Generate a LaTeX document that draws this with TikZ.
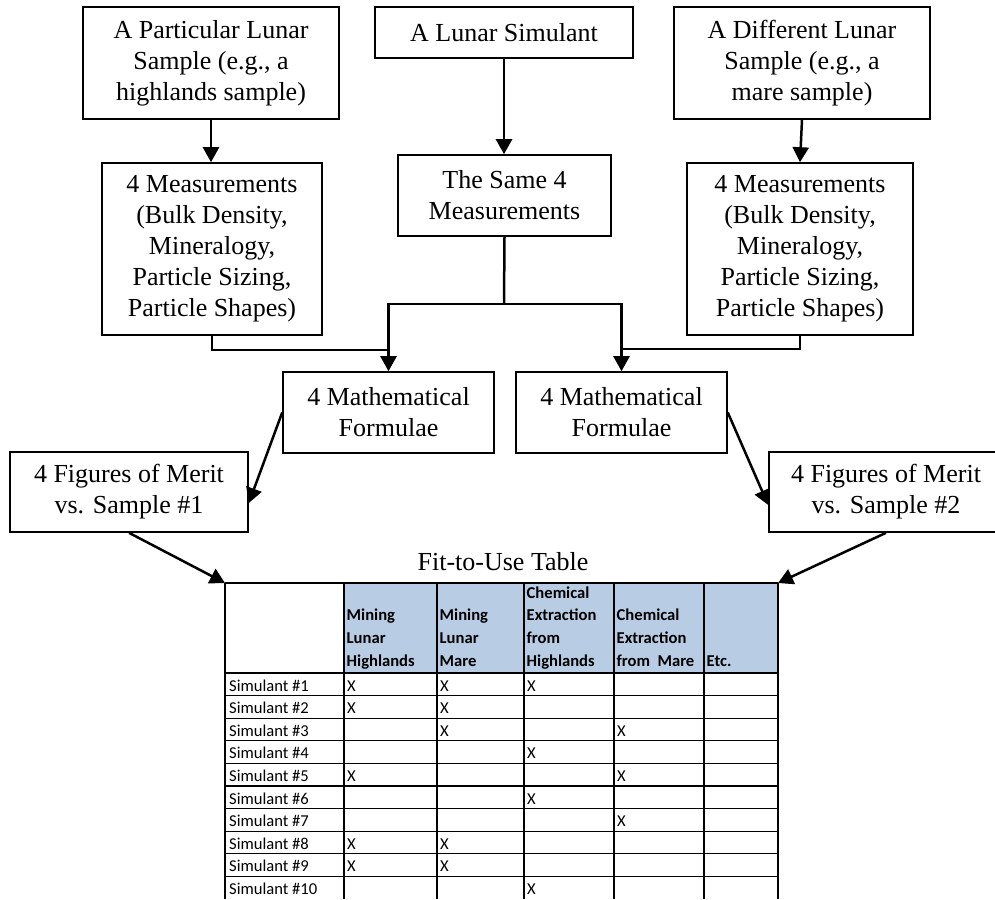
\documentclass[tikz,border=0pt]{standalone}
\usepackage{fontspec}
\setmainfont{Liberation Serif}
\newfontfamily\calibri{Carlito}
\usetikzlibrary{arrows.meta}
\definecolor{hdrblue}{HTML}{B8CCE4}

\begin{document}
\begin{tikzpicture}[x=1pt,y=-1pt,
    box/.style={draw,line width=1.6pt,align=center,inner sep=0pt,
      font=\fontsize{26}{31}\selectfont},
    link/.style={line width=2.5pt},
    arr/.style={link,-{Triangle[length=15pt,width=16pt]}},
    grid/.style={line width=1.1pt},
    hdr/.style={anchor=south west,inner sep=0pt,align=left,
      font=\calibri\bfseries\fontsize{16.6}{22.6}\selectfont},
    cell/.style={anchor=base west,inner sep=0pt,
      font=\calibri\fontsize{16.6}{20}\selectfont}]
  \clip (0,0) rectangle (995,899);

  \node[box,minimum width=256pt,minimum height=112pt] (samp1) at (211,63)
    {A Particular Lunar\\Sample (e.g., a\\highlands sample)};
  \node[box,minimum width=258pt,minimum height=51pt] (simul) at (504,32.5)
    {A Lunar Simulant};
  \node[box,minimum width=256pt,minimum height=112pt] (samp2) at (802,63)
    {A Different Lunar\\Sample (e.g., a\\mare sample)};
  \node[box,minimum width=220pt,minimum height=172pt] (meas1) at (212,249)
    {4 Measurements\\(Bulk Density,\\Mineralogy,\\Particle Sizing,\\Particle Shapes)};
  \node[box,minimum width=213pt,minimum height=81pt] (same) at (504.5,195.5)
    {The Same 4\\Measurements};
  \node[box,minimum width=226pt,minimum height=172pt] (meas2) at (800,249)
    {4 Measurements\\(Bulk Density,\\Mineralogy,\\Particle Sizing,\\Particle Shapes)};
  \node[box,minimum width=211pt,minimum height=81pt] (form1) at (388.5,412.5)
    {4 Mathematical\\Formulae};
  \node[box,minimum width=211pt,minimum height=81pt] (form2) at (621.5,412.5)
    {4 Mathematical\\Formulae};
  \node[box,minimum width=238pt,minimum height=80pt] (fom1) at (129,492)
    {4 Figures of Merit\\vs. Sample \#1};
  \node[box,minimum width=234pt,minimum height=80pt] (fom2) at (886,492)
    {4 Figures of Merit\\vs. Sample \#2};

  \coordinate (bus) at (504,304);
  \draw[arr] (samp1.south) -- (samp1.south |- meas1.north);
  \draw[arr] (simul.south) -- (simul.south |- same.north);
  \draw[arr] (samp2.south) -- (meas2.north);
  \draw[link] (same.south) -- (bus);
  \draw[arr] (bus) -| (form1.north);
  \draw[arr] (bus) -| (form2.north);
  \draw[link] (meas1.south) |- ++(176,14);
  \draw[link] (meas2.south) |- ++(-178,13);
  \draw[arr] (form1.west) -- ([yshift=-11pt]fom1.east);
  \draw[arr] (form2.east) -- ([yshift=-13pt]fom2.west);

  \node[font=\fontsize{26}{31}\selectfont,anchor=base] (title) at (503,570)
    {Fit-to-Use Table};
  \coordinate (tabNW) at (225,583);
  \coordinate (tabNE) at (778,583);
  \draw[arr] (fom1.south) -- (tabNW);
  \draw[arr] (fom2.south) -- (tabNE);

  \fill[hdrblue] (344,583) rectangle (778,673);
  \foreach \y in {583,673}
    \draw[grid] (225,\y) -- (778,\y);
  \foreach \i in {1,...,9}
    \draw[grid] (225,673+22.6*\i) -- (778,673+22.6*\i);
  \foreach \x in {225,344,437,524,614,704,778}
    \draw[grid] (\x,583) -- (\x,899);

  \foreach \x/\t [count=\k] in {344/{Mining\\Lunar\\Highlands},
      437/{Mining\\Lunar\\Mare},
      524/{Chemical\\Extraction\\from\\Highlands},
      614/{Chemical\\Extraction\\from~~Mare},
      704/{Etc.}}
    \node[hdr] (h\k) at (\x+2.5,673) {\t\strut};

  \foreach \i in {1,...,10}
    \node[cell] (lab\i) at (229,668.5+22.6*\i) {Simulant \#\i};

  \foreach \r/\c in {1/1,1/2,1/3,2/1,2/2,3/2,3/4,4/3,5/1,5/4,
      6/3,7/4,8/1,8/2,9/1,9/2,10/3} {
    \pgfmathsetmacro\xc{{344,437,524,614,704}[\c-1]}
    \node[cell] (x\r-\c) at (\xc+3,668.5+22.6*\r) {X};
  }
\end{tikzpicture}
\end{document}
